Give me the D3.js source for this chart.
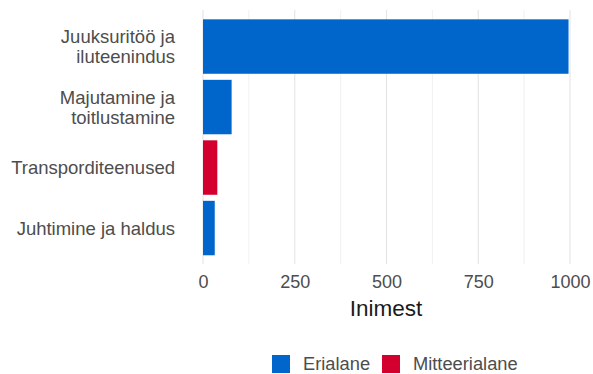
<!DOCTYPE html>
<html>
<head>
<meta charset="utf-8">
<script src="https://cdn.jsdelivr.net/npm/d3@7"></script>
<style>
  html, body { margin: 0; padding: 0; background: #fff; }
  svg { display: block; font-family: "Liberation Sans", Arial, sans-serif; }
</style>
</head>
<body>
<svg id="chart" width="593" height="374"></svg>
<script>
// Categories (top to bottom), each label split into display lines
const categories = ["Juuksuritöö ja iluteenindus", "Majutamine ja toitlustamine", "Transporditeenused", "Juhtimine ja haldus"];
const categoryLines = [["Juuksuritöö ja", "iluteenindus"], ["Majutamine ja", "toitlustamine"], ["Transporditeenused"], ["Juhtimine ja haldus"]];
const values = [996, 78, 39, 32];
const groups = ["Erialane", "Erialane", "Mitteerialane", "Erialane"];
const legendKeys = ["Erialane", "Mitteerialane"];
const xTicks = [0, 250, 500, 750, 1000];
const xMinorTicks = [125, 375, 625, 875];
const xTitle = "Inimest";

const FONT = "'Liberation Sans', Arial, sans-serif";
const svg = d3.select("#chart");

const x = d3.scaleLinear().domain([0, 1000]).range([203, 570]);
const y = d3.scaleBand().domain(categories).range([16.3, 258.3]).paddingInner(0.1).paddingOuter(0.05);
const color = d3.scaleOrdinal().domain(legendKeys).range(["#0066CC", "#D3002F"]);

const panelTop = 10, panelBottom = 264;

// grid lines
svg.append("g").selectAll("line").data(xMinorTicks).join("line")
  .attr("x1", d => x(d)).attr("x2", d => x(d))
  .attr("y1", panelTop).attr("y2", panelBottom)
  .attr("stroke", "#ececec").attr("stroke-width", 0.8);
svg.append("g").selectAll("line").data(xTicks).join("line")
  .attr("x1", d => x(d)).attr("x2", d => x(d))
  .attr("y1", panelTop).attr("y2", panelBottom)
  .attr("stroke", "#e4e4e4").attr("stroke-width", 1.1);

// bars
svg.append("g").selectAll("rect").data(categories).join("rect")
  .attr("x", x(0))
  .attr("y", d => y(d))
  .attr("width", (d, i) => x(values[i]) - x(0))
  .attr("height", y.bandwidth())
  .attr("fill", (d, i) => color(groups[i]));

// x axis (labels only)
const xAxis = d3.axisBottom(x).tickValues(xTicks).tickFormat(d3.format("d")).tickSize(0).tickPadding(0);
const gx = svg.append("g").attr("transform", `translate(0, 276)`).call(xAxis);
gx.select(".domain").remove();
gx.attr("font-family", FONT);
gx.selectAll("text")
  .attr("fill", "#4d4d4d")
  .attr("font-size", 18)
  .attr("dy", "0.32em")
  .attr("y", 6);

// y axis labels (multi-line)
const gy = svg.append("g");
categories.forEach((c, i) => {
  const lines = categoryLines[i];
  const lh = 20;
  const cy = y(c) + y.bandwidth() / 2;
  const t = gy.append("text")
    .attr("text-anchor", "end")
    .attr("fill", "#4d4d4d")
    .attr("font-size", 18.5);
  lines.forEach((ln, j) => {
    t.append("tspan")
      .attr("x", 175)
      .attr("y", cy + (j - (lines.length - 1) / 2) * lh)
      .attr("dy", "0.35em")
      .text(ln);
  });
});

// x axis title
svg.append("text")
  .attr("x", 386).attr("y", 308)
  .attr("dy", "0.35em")
  .attr("text-anchor", "middle")
  .attr("fill", "#1a1a1a")
  .attr("font-size", 22.5)
  .text(xTitle);

// legend
const legendItems = [{ key: "Erialane", x: 272 }, { key: "Mitteerialane", x: 382 }];
const lg = svg.append("g");
legendItems.forEach(it => {
  lg.append("rect")
    .attr("x", it.x).attr("y", 355)
    .attr("width", 18).attr("height", 18)
    .attr("fill", color(it.key));
  lg.append("text")
    .attr("x", it.x + 31).attr("y", 364)
    .attr("dy", "0.35em")
    .attr("fill", "#4d4d4d")
    .attr("font-size", 18.3)
    .text(it.key);
});
</script>
</body>
</html>
